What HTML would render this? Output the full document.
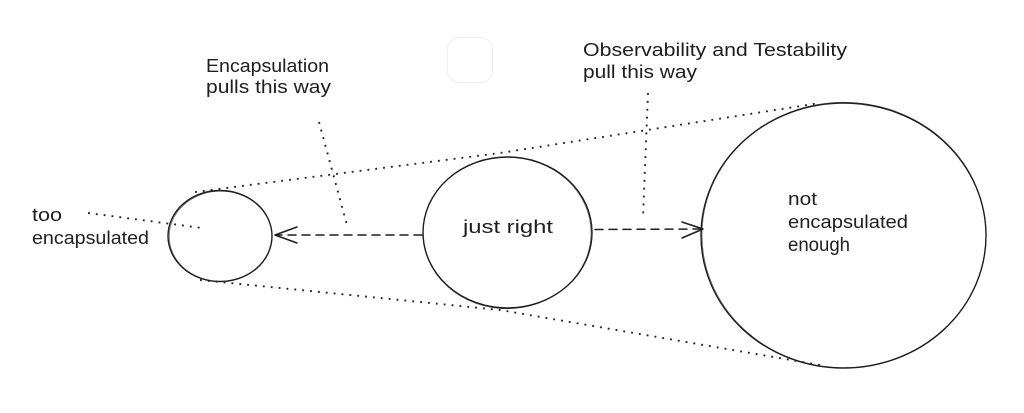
<!DOCTYPE html>
<html>
<head>
<meta charset="utf-8">
<style>
  html,body{margin:0;padding:0;background:#ffffff;}
  body{width:1024px;height:413px;overflow:hidden;}
  svg{display:block;}
  text{font-family:"Liberation Sans",sans-serif;font-size:18px;fill:#1e1e1e;}
</style>
</head>
<body>
<svg width="1024" height="413" viewBox="0 0 1024 413" xmlns="http://www.w3.org/2000/svg">
  <rect x="0" y="0" width="1024" height="413" fill="#ffffff"/>

  <!-- faint rounded square -->
  <rect x="447.5" y="37.5" width="45" height="45" rx="12" ry="12" fill="none" stroke="#ededf7" stroke-width="1"/>

  <!-- dotted tangent lines -->
  <g fill="none" stroke="#262626" stroke-width="1.9" stroke-dasharray="1.9 6" stroke-linecap="butt">
    <polyline points="195,192 500,153 820,103"/>
    <polyline points="200,280 500,310 820,365"/>
    <!-- pointers -->
    <line x1="88" y1="213" x2="202" y2="228"/>
    <line x1="319" y1="122" x2="347" y2="225"/>
    <line x1="648" y1="93" x2="643" y2="217"/>
  </g>

  <!-- circles (sketchy double stroke) -->
  <g fill="none" stroke="#1e1e1e">
    <ellipse cx="220" cy="236" rx="52" ry="45.5" stroke-width="1.4"/>
    <ellipse cx="220.6" cy="236.4" rx="51.4" ry="45.2" stroke-width="0.7" opacity="0.7"/>

    <ellipse cx="507.5" cy="232.5" rx="84.5" ry="75.5" stroke-width="1.4"/>
    <ellipse cx="507" cy="233" rx="84" ry="75.8" stroke-width="0.7" opacity="0.7"/>

    <ellipse cx="843.5" cy="235.5" rx="142.5" ry="132.5" stroke-width="1.4"/>
    <ellipse cx="844" cy="235" rx="142" ry="132.8" stroke-width="0.7" opacity="0.7"/>
  </g>

  <!-- dashed arrows -->
  <g fill="none" stroke="#1e1e1e" stroke-width="1.5" stroke-linecap="round" stroke-linejoin="round">
    <line x1="422" y1="235" x2="277" y2="235" stroke-dasharray="8 6"/>
    <polyline points="297,227 275,235 297,243"/>
    <line x1="595" y1="229.5" x2="701" y2="229" stroke-dasharray="8 6"/>
    <polyline points="682,222 703,229 682,238"/>
  </g>

  <!-- labels -->
  <text x="32" y="221" textLength="30" lengthAdjust="spacingAndGlyphs">too</text>
  <text x="32" y="244" textLength="117" lengthAdjust="spacingAndGlyphs">encapsulated</text>

  <text x="206" y="72" textLength="123" lengthAdjust="spacingAndGlyphs">Encapsulation</text>
  <text x="206" y="93" textLength="125" lengthAdjust="spacingAndGlyphs">pulls this way</text>

  <text x="583" y="56" textLength="264" lengthAdjust="spacingAndGlyphs">Observability and Testability</text>
  <text x="583" y="78" textLength="114" lengthAdjust="spacingAndGlyphs">pull this way</text>

  <text x="463" y="233" textLength="90" lengthAdjust="spacingAndGlyphs">just right</text>

  <text x="788" y="205" textLength="29" lengthAdjust="spacingAndGlyphs">not</text>
  <text x="788" y="228" textLength="120" lengthAdjust="spacingAndGlyphs">encapsulated</text>
  <text x="788" y="251" textLength="62" lengthAdjust="spacingAndGlyphs" style="font-size:19px">enough</text>
</svg>
</body>
</html>
